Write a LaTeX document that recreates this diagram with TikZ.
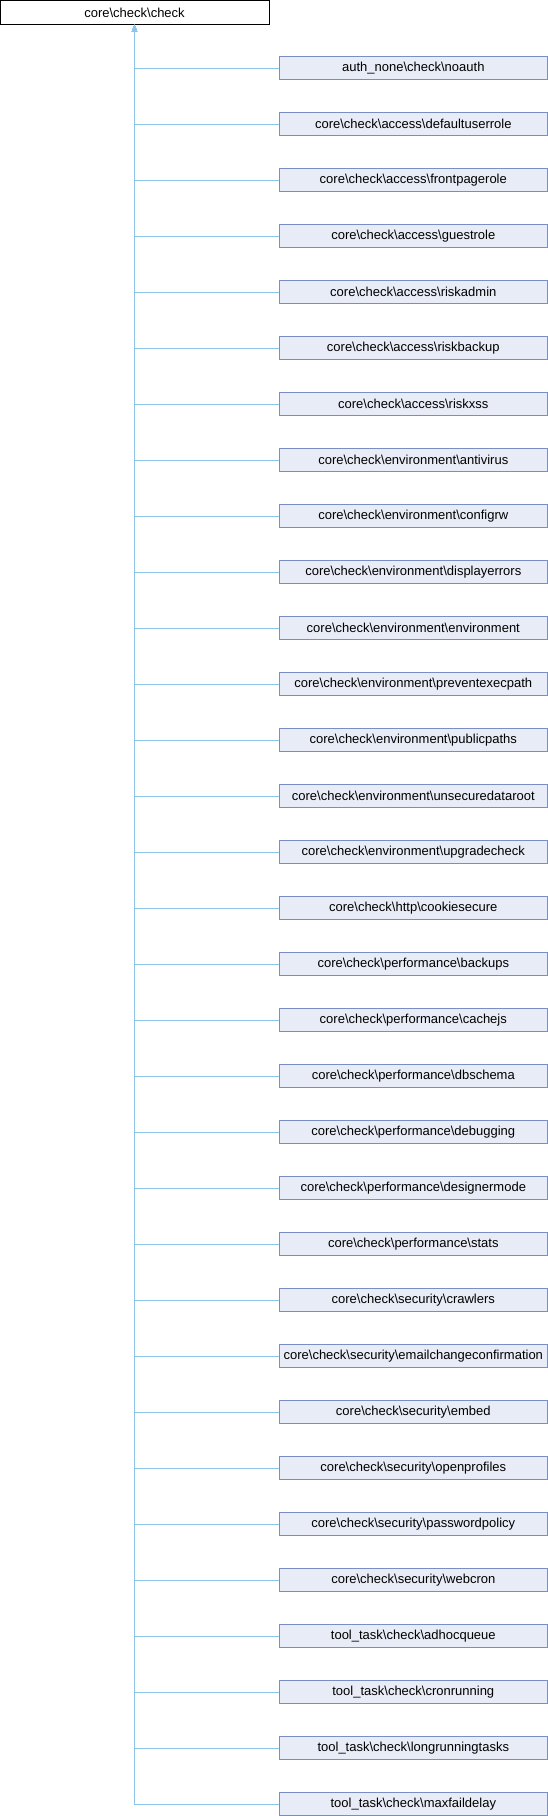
\documentclass[tikz,border=0pt]{standalone}
\usepackage{fontspec}
\setmainfont{Liberation Sans}
\usetikzlibrary{arrows.meta}
\definecolor{edgeblue}{HTML}{8CC4EA}
\definecolor{boxline}{HTML}{7A8DC5}
\definecolor{boxfill}{HTML}{E8ECF6}
\newcommand{\bs}{\textbackslash}
\tikzset{
  basebox/.style={draw=black,fill=white,line width=1pt,minimum width=269pt,minimum height=24pt,inner sep=0pt,font=\fontsize{13}{15}\selectfont},
  derivedbox/.style={draw=boxline,fill=boxfill,line width=1.1pt,minimum width=268pt,minimum height=23pt,inner sep=0pt,font=\fontsize{13}{15}\selectfont},
  inherit/.style={draw=edgeblue,line width=1pt,-{Triangle[width=5pt,length=6.5pt,fill=edgeblue]}}
}
\begin{document}
\begin{tikzpicture}[x=1pt,y=-1pt]
\useasboundingbox (0,0) rectangle (548,1816);
\node[basebox] (root) at (134.5,12.4) {core\bs check\bs check};

\foreach \name [count=\i from 0] in {
{auth\_none\bs check\bs noauth},
{core\bs check\bs access\bs defaultuserrole},
{core\bs check\bs access\bs frontpagerole},
{core\bs check\bs access\bs guestrole},
{core\bs check\bs access\bs riskadmin},
{core\bs check\bs access\bs riskbackup},
{core\bs check\bs access\bs riskxss},
{core\bs check\bs environment\bs antivirus},
{core\bs check\bs environment\bs configrw},
{core\bs check\bs environment\bs displayerrors},
{core\bs check\bs environment\bs environment},
{core\bs check\bs environment\bs preventexecpath},
{core\bs check\bs environment\bs publicpaths},
{core\bs check\bs environment\bs unsecuredataroot},
{core\bs check\bs environment\bs upgradecheck},
{core\bs check\bs http\bs cookiesecure},
{core\bs check\bs performance\bs backups},
{core\bs check\bs performance\bs cachejs},
{core\bs check\bs performance\bs dbschema},
{core\bs check\bs performance\bs debugging},
{core\bs check\bs performance\bs designermode},
{core\bs check\bs performance\bs stats},
{core\bs check\bs security\bs crawlers},
{core\bs check\bs security\bs emailchangeconfirmation},
{core\bs check\bs security\bs embed},
{core\bs check\bs security\bs openprofiles},
{core\bs check\bs security\bs passwordpolicy},
{core\bs check\bs security\bs webcron},
{tool\_task\bs check\bs adhocqueue},
{tool\_task\bs check\bs cronrunning},
{tool\_task\bs check\bs longrunningtasks},
{tool\_task\bs check\bs maxfaildelay}}
{
\node[derivedbox] (child\i) at (413.3,{68+56*\i}) {\name};
\draw[inherit] (child\i.west) -| (root.south);
}
\end{tikzpicture}
\end{document}
